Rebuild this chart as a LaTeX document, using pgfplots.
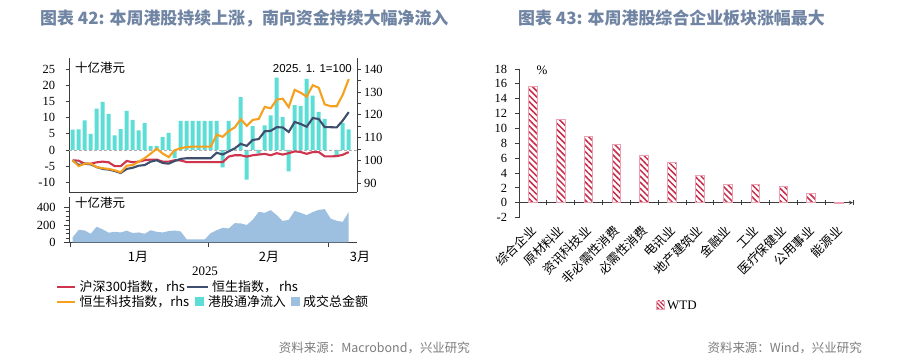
\documentclass[border=0pt]{standalone}
\usepackage{fontspec}
\setmainfont{Liberation Serif}
\newfontfamily\cjk{Noto Sans CJK SC}
\newfontfamily\lsans{Liberation Sans}
\usepackage{pgfplots}
\pgfplotsset{compat=1.18}
\usepackage{pgfplotstable}
\usetikzlibrary{patterns.meta}

\definecolor{hsred}{RGB}{206,52,78}
\definecolor{hsnavy}{RGB}{62,78,108}
\definecolor{hsorange}{RGB}{245,160,30}
\definecolor{flowcyan}{RGB}{92,222,214}
\definecolor{areablue}{RGB}{157,192,224}
\definecolor{titleblue}{RGB}{112,132,163}
\definecolor{axisgray}{RGB}{60,60,60}
\definecolor{srcgray}{RGB}{125,125,125}
\definecolor{barred}{RGB}{200,45,75}
\definecolor{pinkedge}{RGB}{236,160,176}
\definecolor{zerogray}{RGB}{175,175,175}

\pgfplotstableread{
i flow hs hsi tech turn
0 6.3 100.1 100.1 100.1 60
1 6.4 99.9 98.0 97.5 145
2 9.2 98.6 98.6 98.6 137
3 5.0 98.6 98.3 98.6 100
4 12.8 99.2 97.1 97.1 180
5 14.9 99.5 96.3 96.6 150
6 11.2 99.2 96.0 96.3 112
7 4.5 97.5 95.4 95.7 122
8 6.5 97.5 94.5 94.8 115
9 12.1 99.8 96.3 97.7 135
10 9.3 99.2 96.8 98.0 108
11 6.1 99.5 97.7 99.5 115
12 8.3 100.1 98.0 101.0 100
13 1.2 100.4 99.5 103.0 140
14 1.3 100.4 100.1 105.2 122
15 4.0 99.5 98.9 103.0 115
16 5.3 99.5 98.6 101.5 130
17 -2.5 100.1 99.8 104.5 137
18 9.0 100.0 100.7 105.4 126
19 9.0 99.3 101.0 105.9 35
20 9.0 99.3 101.0 106.1 35
21 9.0 99.3 101.0 106.1 35
22 9.0 99.3 101.0 106.1 35
23 9.0 99.3 101.0 106.1 107
24 9.0 99.3 103.4 111.3 141
25 -5.4 99.3 102.6 110.4 168
26 9.0 101.7 104.0 112.9 160
27 0.3 102.3 105.3 114.5 221
28 16.4 102.3 107.3 118.1 218
29 -9.2 101.7 106.4 115.2 200
30 7.4 102.3 109.0 117.8 259
31 -1.1 102.6 109.4 118.2 351
32 7.6 102.9 112.8 123.5 339
33 10.7 102.3 113.0 122.9 370
34 22.4 103.2 114.6 126.7 313
35 10.2 102.6 114.5 127.1 245
36 -6.6 103.2 112.5 123.4 259
37 13.9 104.0 116.9 131.0 362
38 13.6 103.7 116.0 129.7 339
39 22.0 102.9 114.8 128.0 313
40 16.8 103.7 118.6 133.0 347
41 11.8 103.7 118.2 131.9 373
42 9.6 101.8 114.6 124.6 381
43 0.0 101.8 114.6 123.8 272
44 -1.6 101.9 114.5 123.8 248
45 8.3 102.5 117.5 128.8 236
46 6.4 103.7 121.2 135.7 351
}\leftdata

\pgfplotstableread{
x wtd
0 15.6
1 11.26
2 8.92
3 7.85
4 6.32
5 5.38
6 3.68
7 2.51
8 2.51
9 2.24
10 1.21
11 -0.15
}\rightdata

\pgfplotsset{
  common/.style={
    scale only axis,
    anchor=south west,
    /pgf/number format/assume math mode=true,
    tick label style={font=\fontsize{12.5}{14}\selectfont},
    axis line style={line width=0.8pt, color=axisgray, -},
    tick style={color=axisgray, line width=0.8pt},
    tick align=outside,
    major tick length=3.5bp,
    minor tick length=3.5bp,
  }
}

\begin{document}
\begin{tikzpicture}
\path[use as bounding box, fill=white] (0,0) rectangle (901bp,363bp);

% titles
\node[anchor=west, text=titleblue, font=\cjk\bfseries\fontsize{17}{20}\selectfont, inner sep=0] at (40bp,345bp) {图表 42: 本周港股持续上涨，南向资金持续大幅净流入};
\node[anchor=west, text=titleblue, font=\cjk\bfseries\fontsize{17}{20}\selectfont, inner sep=0] at (518bp,345bp) {图表 43: 本周港股综合企业板块涨幅最大};

% ---------- upper left panel: flows (lhs)
\begin{axis}[common,
  width=288bp, height=134bp, at={(69bp,171bp)},
  xmin=-0.617, xmax=47.38, ymin=-13.0, ymax=28.48,
  axis y line*=left, axis x line*=bottom,
  xtick=\empty,
  ytick={-10,-5,...,25},
  yticklabel style={xshift=-7bp},
]
\addplot[ybar, bar width=4bp, fill=flowcyan, draw=none] table[x=i, y=flow] {\leftdata};
\addplot[zerogray, line width=0.9pt, dash pattern=on 3bp off 2bp] coordinates {(-0.617,0) (47.38,0)};
\end{axis}

% ---------- upper left panel: indices (rhs)
\begin{axis}[common,
  width=288bp, height=134bp, at={(69bp,171bp)},
  xmin=-0.617, xmax=47.38, ymin=86.18, ymax=144.95,
  axis y line*=right, axis x line=none,
  ytick={90,100,...,140},
  minor ytick={95,105,...,135},
]
\addplot[hsred, line width=2.1pt] table[x=i, y=hs] {\leftdata};
\addplot[hsnavy, line width=2.1pt] table[x=i, y=hsi] {\leftdata};
\addplot[hsorange, line width=2.1pt] table[x=i, y=tech] {\leftdata};
\end{axis}

\node[anchor=west, font=\cjk\fontsize{12.5}{14}\selectfont, inner sep=0] at (75bp,295bp) {十亿港元};
\node[anchor=east, font=\lsans\fontsize{11.5}{13}\selectfont, inner sep=0] at (352bp,294.5bp) {2025. 1. 1=100};

% ---------- lower left panel: turnover
\begin{axis}[common,
  width=288bp, height=45.5bp, at={(69bp,120.5bp)},
  xmin=-0.617, xmax=47.38, ymin=0, ymax=520,
  axis y line*=left, axis x line*=bottom,
  xtick={-0.45,22.55,42.55}, xticklabels={},
  major tick length=5bp,
  ytick={0,200,400},
  minor ytick={50,100,150,250,300,350},
  yticklabel style={xshift=-5bp},
]
\addplot[fill=areablue, draw=none] table[x=i, y=turn] {\leftdata} \closedcycle;
\end{axis}
\node[anchor=west, font=\cjk\fontsize{12.5}{14}\selectfont, inner sep=0] at (75bp,160bp) {十亿港元};
\node[font=\cjk\fontsize{13}{15}\selectfont, inner sep=0] at (138bp,106bp) {1月};
\node[font=\cjk\fontsize{13}{15}\selectfont, inner sep=0] at (269bp,106bp) {2月};
\node[font=\cjk\fontsize{13}{15}\selectfont, inner sep=0] at (360bp,106bp) {3月};
\node[font=\fontsize{13}{15}\selectfont, inner sep=0] at (205bp,92bp) {2025};

% legend (left)
\draw[hsred, line width=2.2pt] (57bp,76bp) -- (75bp,76bp);
\node[anchor=west, font=\cjk\fontsize{13}{15}\selectfont, inner sep=0] at (79.5bp,76bp) {沪深300指数，rhs};
\draw[hsnavy, line width=2.2pt] (187bp,76bp) -- (208bp,76bp);
\node[anchor=west, font=\cjk\fontsize{13}{15}\selectfont, inner sep=0] at (212bp,76bp) {恒生指数，\,rhs};
\draw[hsorange, line width=2.2pt] (57bp,61bp) -- (75bp,61bp);
\node[anchor=west, font=\cjk\fontsize{13}{15}\selectfont, inner sep=0] at (79.5bp,61bp) {恒生科技指数，rhs};
\fill[flowcyan] (195bp,56.5bp) rectangle (204bp,65.5bp);
\node[anchor=west, font=\cjk\fontsize{13}{15}\selectfont, inner sep=0] at (208bp,61bp) {港股通净流入};
\fill[areablue] (291bp,56.5bp) rectangle (300bp,65.5bp);
\node[anchor=west, font=\cjk\fontsize{13}{15}\selectfont, inner sep=0] at (303bp,61bp) {成交总金额};

% ---------- right chart
\begin{axis}[common,
  width=334bp, height=148.6bp, at={(519bp,145.4bp)},
  xmin=-0.5, xmax=11.5, ymin=-2, ymax=18,
  axis y line*=left, axis x line=middle,
  major tick length=4.5bp,
  xtick={-0.5,0.5,...,11.5}, xticklabels={},
  extra x ticks={0,1,...,11},
  extra x tick labels={综合企业,原材料业,资讯科技业,非必需性消费,必需性消费,电讯业,地产建筑业,金融业,工业,医疗保健业,公用事业,能源业},
  extra x tick style={major tick length=0pt,
    xticklabel style={font=\cjk\fontsize{12.5}{14}\selectfont, yshift=-23bp, xshift=3bp, rotate=45, anchor=east}},
  ytick={-2,0,...,18},
  yticklabel style={xshift=-4bp},
  clip=false,
]
\addplot[ybar, bar width=8.7bp, draw=pinkedge, line width=1.1pt,
  pattern={Lines[angle=-45, distance=4.3bp, line width=1.5bp]}, pattern color=barred]
  table[x=x, y=wtd] {\rightdata};
\end{axis}
\node[font=\fontsize{13}{15}\selectfont, inner sep=0] at (542bp,293bp) {\%};
\draw[pinkedge, line width=1pt, pattern={Lines[angle=-45, distance=3bp, line width=1.2bp]}, pattern color=barred] (656.5bp,54bp) rectangle (664.5bp,62bp);
\node[anchor=west, font=\fontsize{13}{15}\selectfont, inner sep=0] at (667bp,58bp) {WTD};

% sources
\node[anchor=east, text=srcgray, font=\cjk\fontsize{12.5}{14}\selectfont, inner sep=0] at (470bp,15bp) {资料来源：Macrobond，兴业研究};
\node[anchor=east, text=srcgray, font=\cjk\fontsize{12.5}{14}\selectfont, inner sep=0] at (862bp,15bp) {资料来源：Wind，兴业研究};
\end{tikzpicture}
\end{document}
